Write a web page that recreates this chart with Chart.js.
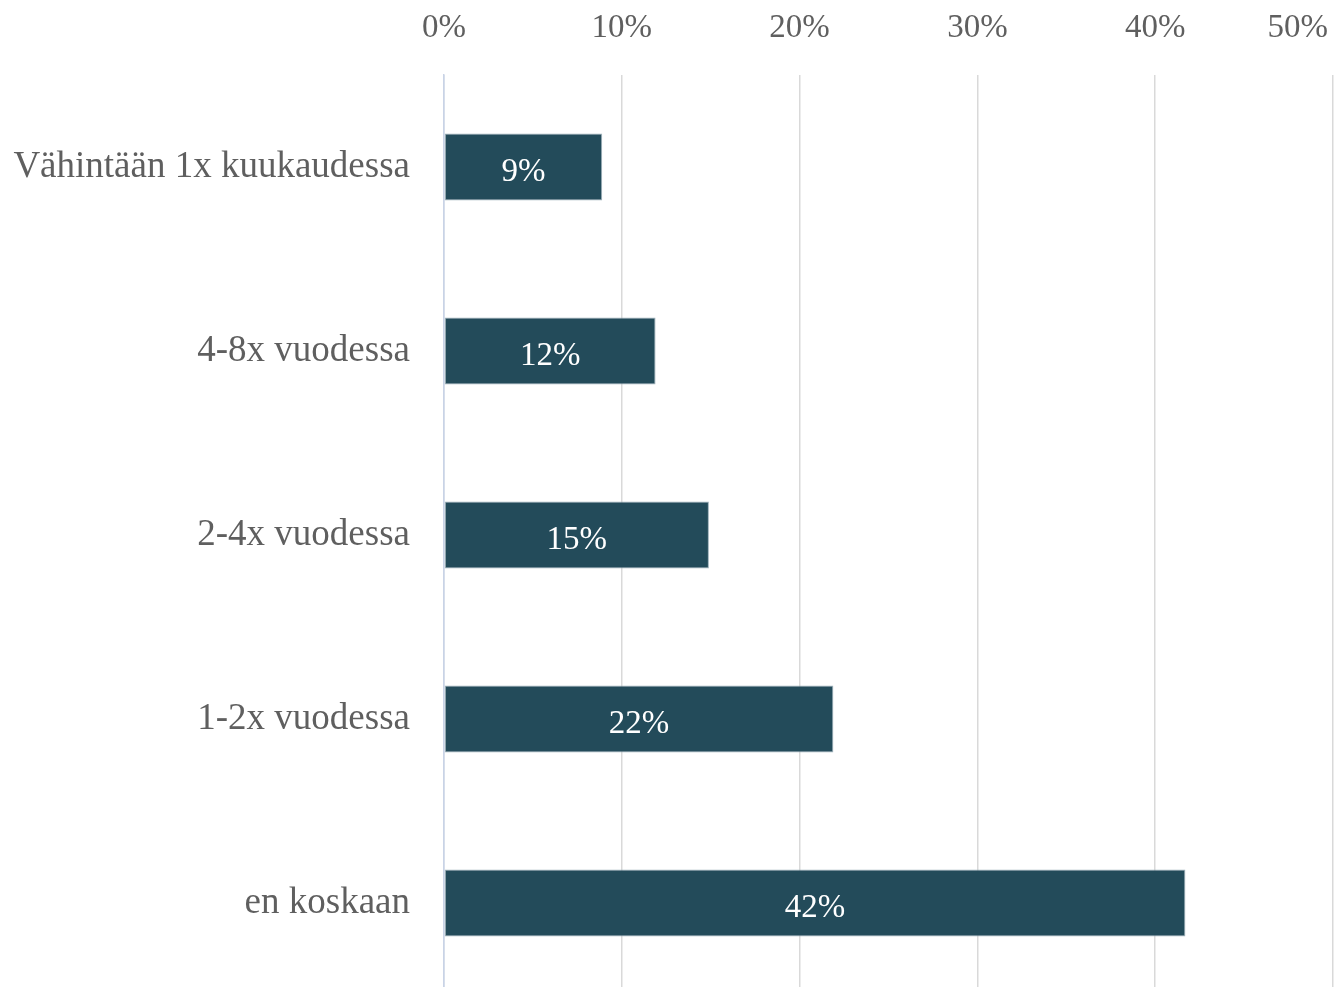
<!DOCTYPE html>
<html>
<head>
<meta charset="utf-8">
<script src="https://cdn.jsdelivr.net/npm/chart.js@4"></script>
<style>
  html, body { margin: 0; padding: 0; background: #fff; overflow: hidden; }
  canvas { display: block; }
</style>
</head>
<body>
<canvas id="chart" width="1341" height="995"></canvas>
<script>
const categories = ['Vähintään 1x kuukaudessa', '4-8x vuodessa', '2-4x vuodessa', '1-2x vuodessa', 'en koskaan'];
const shares = [8.9, 11.9, 14.9, 21.9, 41.7];
const shareLabels = ['9%', '12%', '15%', '22%', '42%'];
const xTicks = [0, 10, 20, 30, 40, 50];

const serif = '"Liberation Serif", "Times New Roman", serif';

// x tick labels drawn above the plot, last one kept inside the canvas
const topLabels = {
    id: 'topLabels',
    afterDraw(chart) {
        const ctx = chart.ctx;
        const x = chart.scales.x;
        ctx.save();
        ctx.font = '33px ' + serif;
        ctx.fillStyle = '#5f5f5f';
        ctx.textBaseline = 'middle';
        xTicks.forEach(v => {
            const text = v + '%';
            const w = ctx.measureText(text).width;
            let px = x.getPixelForValue(v) - w / 2;
            if (px + w > chart.width - 13) px = chart.width - 13 - w;
            ctx.fillText(text, px, 28);
        });
        ctx.restore();
    }
};

const barLabels = {
    id: 'barLabels',
    afterDatasetsDraw(chart) {
        const ctx = chart.ctx;
        const meta = chart.getDatasetMeta(0);
        ctx.save();
        ctx.font = '33px ' + serif;
        ctx.fillStyle = '#ffffff';
        ctx.textAlign = 'center';
        ctx.textBaseline = 'middle';
        meta.data.forEach((bar, i) => {
            const cx = (bar.x + bar.base) / 2;
            ctx.fillText(shareLabels[i], cx, bar.y + 5);
        });
        ctx.restore();
    }
};

new Chart(document.getElementById('chart'), {
    type: 'bar',
    data: {
        labels: categories,
        datasets: [{
            data: shares,
            backgroundColor: '#234b5a',
            borderColor: '#9fb2bc',
            borderWidth: 1,
            borderSkipped: false,
            barPercentage: 0.364,
            categoryPercentage: 1
        }]
    },
    options: {
        indexAxis: 'y',
        responsive: false,
        animation: false,
        layout: { padding: { top: 75, right: 8, left: 0, bottom: 0 } },
        plugins: {
            legend: { display: false },
            tooltip: { enabled: false }
        },
        scales: {
            x: {
                position: 'top',
                min: 0,
                max: 50,
                ticks: { display: false, stepSize: 10 },
                grid: {
                    drawTicks: false,
                    color: ctx => ctx.tick && ctx.tick.value === 0 ? '#c9d3e6' : '#d9d9d9',
                    lineWidth: 1.5
                },
                border: { display: false }
            },
            y: {
                afterFit(scale) {
                    scale.width = 444;
                    scale.paddingTop = 0;
                    scale.paddingBottom = 0;
                },
                ticks: {
                    padding: 34,
                    color: '#5f5f5f',
                    font: { family: serif, size: 37 }
                },
                grid: { display: false, drawTicks: false },
                border: { display: true, color: '#c9d3e6', width: 1.5 }
            }
        }
    },
    plugins: [topLabels, barLabels]
});
</script>
</body>
</html>
